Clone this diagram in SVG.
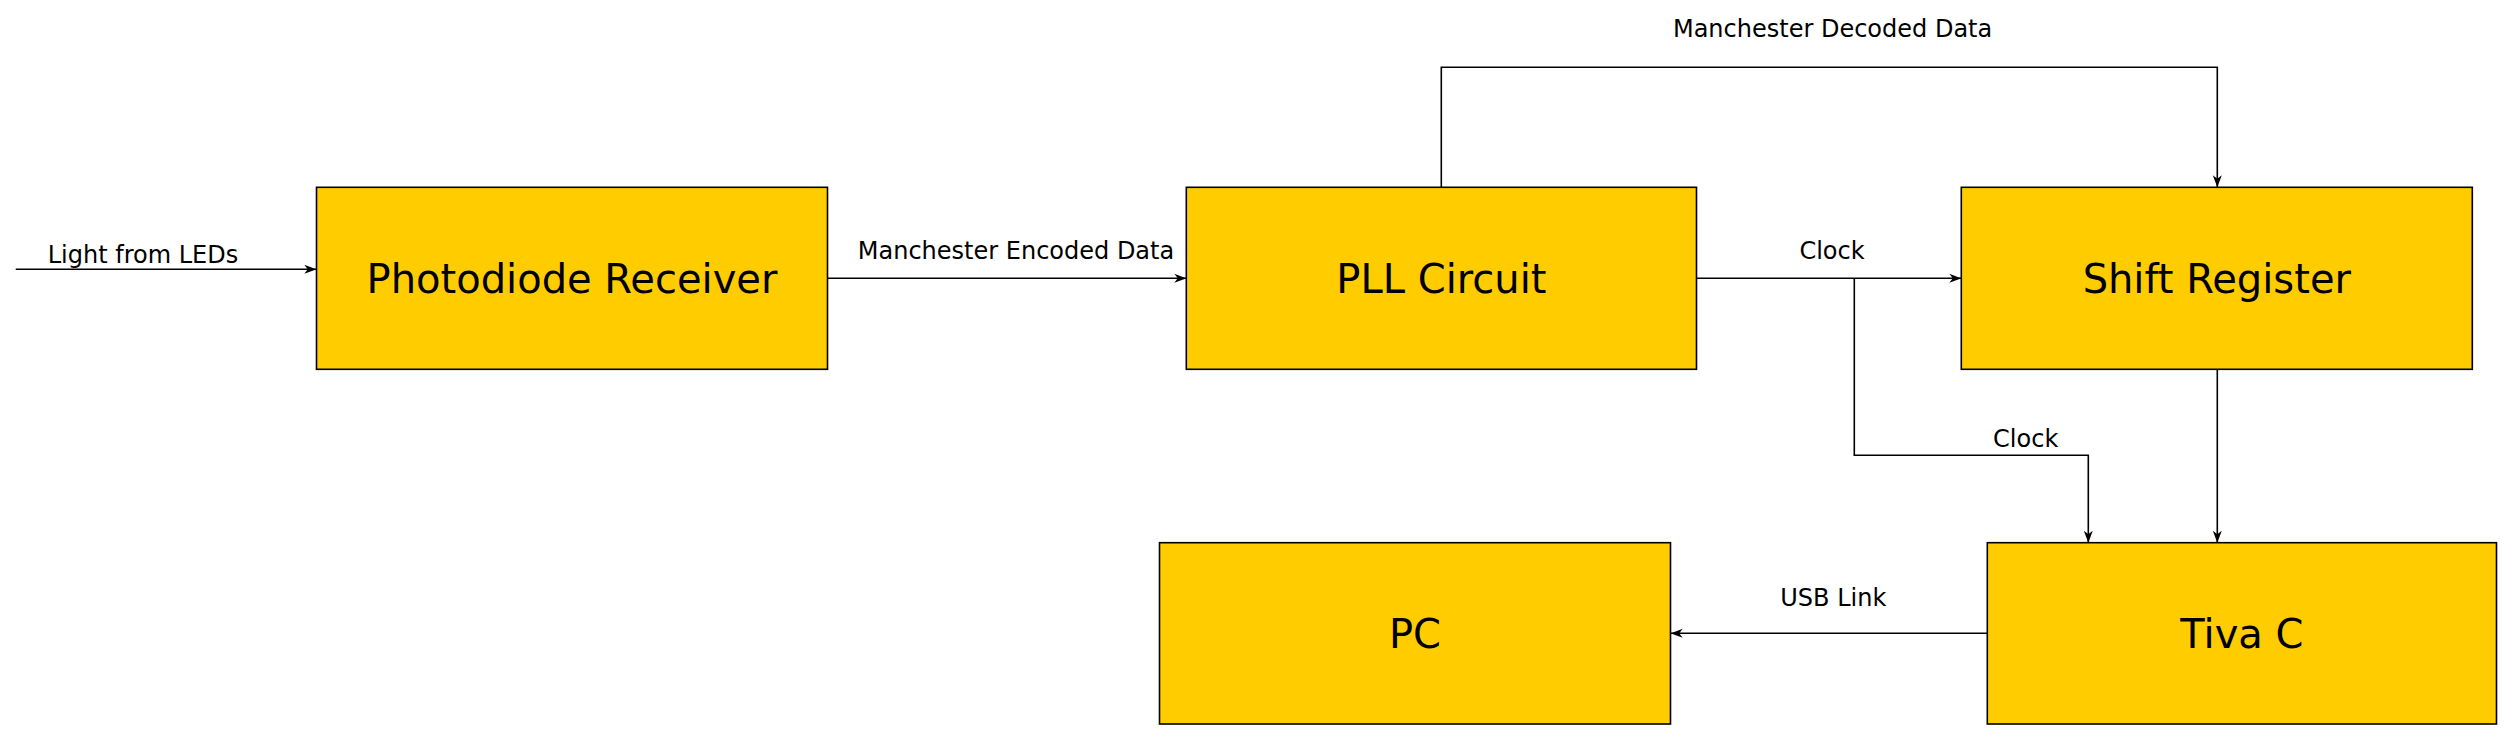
<svg xmlns="http://www.w3.org/2000/svg" width="2513" height="740" viewBox="0 0 2513 740">
  <style>
    .box { fill: #FFCC00; stroke: #000000; stroke-width: 1.6; }
    .blabel { font-family: "DejaVu Sans", "Liberation Sans", sans-serif; font-size: 40px; fill: #000000; text-anchor: middle; }
    .elabel { font-family: "DejaVu Sans", "Liberation Sans", sans-serif; font-size: 24px; fill: #000000; text-anchor: middle; }
    .edge { fill: none; stroke: #000000; stroke-width: 1.6; marker-end: url(#arr); }
  </style>
  <defs>
    <marker id="arr" viewBox="0 0 12 10" refX="12" refY="5" markerWidth="12" markerHeight="10" orient="auto" markerUnits="userSpaceOnUse">
      <path d="M0,0.5 L12,5 L0,9.5 L3.5,5 Z" fill="#000000"/>
    </marker>
  </defs>
  <rect width="2513" height="740" fill="#FFFFFF"/>

  <g id="connectors">
    <path class="edge" d="M15.7,269.3 H316.3"/>
    <path class="edge" d="M827.5,278.3 H1186.3"/>
    <path class="edge" d="M1441.3,187.3 V67.3 H2217.3 V187.3"/>
    <path class="edge" d="M1696.5,278.3 H1961.3"/>
    <path class="edge" d="M1854.3,278.3 V455.3 H2088.3 V542.7"/>
    <path class="edge" d="M2217.3,369.3 V542.7"/>
    <path class="edge" d="M1987.3,633.3 H1670.7"/>
    <text class="elabel" x="143" y="263.3">Light from LEDs</text>
    <text class="elabel" x="1016" y="258.7">Manchester Encoded Data</text>
    <text class="elabel" x="1832.6" y="37.3">Manchester Decoded Data</text>
    <text class="elabel" x="1832" y="259.3">Clock</text>
    <text class="elabel" x="2025.7" y="446.7">Clock</text>
    <text class="elabel" x="1833.3" y="605.7">USB Link</text>
  </g>

  <g id="photodiode-receiver">
    <rect class="box" x="316.5" y="187.3" width="511" height="182"/>
    <text class="blabel" x="572" y="292.5">Photodiode Receiver</text>
  </g>
  <g id="pll-circuit">
    <rect class="box" x="1186.3" y="187.3" width="510.2" height="182"/>
    <text class="blabel" x="1441.4" y="292.5">PLL Circuit</text>
  </g>
  <g id="shift-register">
    <rect class="box" x="1961.3" y="187.3" width="511" height="182"/>
    <text class="blabel" x="2216.8" y="292.5">Shift Register</text>
  </g>
  <g id="pc">
    <rect class="box" x="1159.5" y="542.7" width="511" height="181.3"/>
    <text class="blabel" x="1415" y="647.8">PC</text>
  </g>
  <g id="tiva-c">
    <rect class="box" x="1987.3" y="542.7" width="509.2" height="181.3"/>
    <text class="blabel" x="2241.9" y="647.8">Tiva C</text>
  </g>
</svg>
